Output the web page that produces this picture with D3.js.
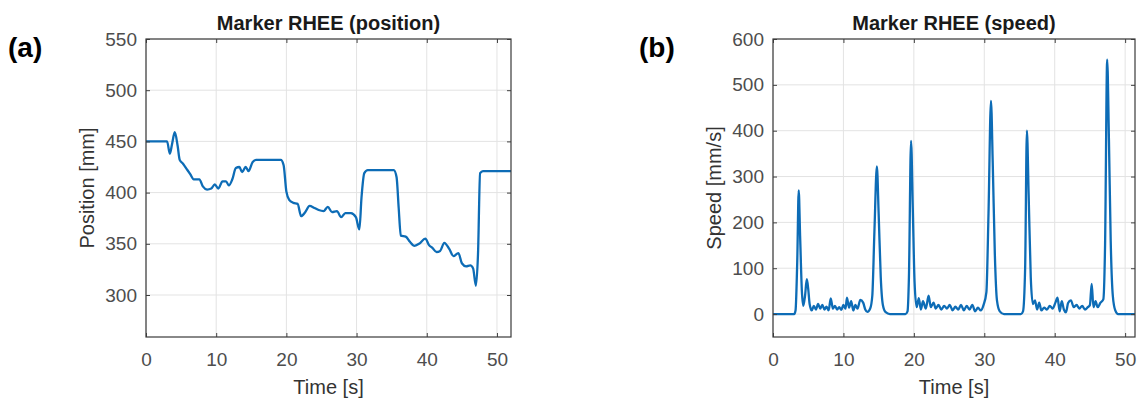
<!DOCTYPE html>
<html>
<head>
<meta charset="utf-8">
<script src="https://cdn.jsdelivr.net/npm/d3@7"></script>
<style>
  body { margin: 0; background: #fff; }
  svg { display: block; font-family: "Liberation Sans", Arial, sans-serif; }
  .tick text { fill: #4d4d4d; font-size: 19px; }
  .domain { display: none; }
</style>
</head>
<body>
<svg id="chart" width="1142" height="403"></svg>
<script>
// position of marker RHEE [mm] vs time [s]
var posTime = [0, 3.0, 3.4, 3.7, 4.1, 4.5, 4.8, 5.3, 5.8, 6.3, 6.8, 7.6, 8.1, 8.7, 9.3, 9.8,
  10.3, 10.9, 11.4, 11.8, 12.3, 12.8, 13.3, 13.7, 14.2, 14.6, 15.2, 15.7, 19.2, 19.6, 20.0,
  20.4, 21.0, 21.6, 22.1, 22.7, 23.3, 24.0, 24.6, 25.3, 25.9, 26.5, 27.2, 27.8, 28.4, 29.2,
  29.9, 30.4, 30.7, 31.1, 31.6, 35.3, 35.7, 36.0, 36.3, 37.0, 37.6, 38.2, 38.9, 39.8, 40.3,
  40.8, 41.4, 41.9, 42.5, 43.2, 43.8, 44.5, 45.0, 45.6, 46.2, 46.6, 47.0, 47.3, 47.6, 48.0, 52.0];
var posValue = [450, 450, 438, 447, 459, 446, 432, 428, 423, 418, 413, 413, 406, 403, 404, 408,
  404, 411, 411, 407, 413, 424, 425, 420, 425, 421, 430, 432, 432, 427, 401,
  393, 390, 389, 377, 381, 387, 385, 383, 382, 386, 381, 382, 376, 380, 380,
  376, 364, 395, 419, 422, 422, 415, 385, 358, 357, 352, 348, 350, 355, 349,
  346, 342, 343, 351, 345, 338, 341, 331, 328, 329, 326, 309, 340, 419, 421, 421];

// speed of marker RHEE [mm/s] vs time [s]
var speedTime = [0, 3.0, 3.2, 3.45, 3.65, 3.85, 4.1, 4.3, 4.55, 4.8, 5.0, 5.2, 5.5, 5.8, 6.1,
  6.4, 6.7, 7.0, 7.3, 7.6, 7.9, 8.2, 8.5, 8.8, 9.1, 9.4, 9.7, 10.0, 10.3, 10.5, 10.8, 11.1,
  11.4, 11.7, 12.0, 12.4, 12.8, 13.1, 13.4, 13.8, 14.1, 14.4, 14.75, 15.0, 15.3, 15.6, 16.0,
  16.6, 18.8, 19.1, 19.3, 19.6, 19.85, 20.1, 20.4, 20.7, 21.0, 21.3, 21.7, 22.1, 22.4, 22.8,
  23.1, 23.5, 23.9, 24.3, 24.7, 25.1, 25.5, 25.9, 26.3, 26.7, 27.1, 27.5, 27.9, 28.3, 28.7,
  29.1, 29.5, 29.9, 30.3, 30.6, 30.95, 31.2, 31.5, 31.8, 32.2, 32.8, 35.2, 35.5, 35.8, 36.05,
  36.3, 36.6, 36.9, 37.2, 37.5, 37.8, 38.1, 38.5, 38.9, 39.3, 39.7, 40.1, 40.4, 40.7, 41.0,
  41.3, 41.6, 41.9, 42.3, 42.7, 43.1, 43.5, 43.9, 44.3, 44.7, 45.0, 45.25, 45.5, 45.8, 46.1,
  46.5, 46.9, 47.15, 47.45, 47.7, 47.95, 48.25, 48.6, 49.0, 51.4];
var speedValue = [0, 0, 8, 120, 270, 170, 50, 18, 40, 76, 55, 22, 8, 18, 10,
  22, 12, 20, 10, 16, 8, 34, 12, 18, 10, 15, 9, 20, 12, 36, 14, 28,
  8, 20, 12, 31, 25, 10, 5, 12, 40, 180, 322, 220, 80, 20, 4,
  0, 0, 6, 80, 378, 230, 70, 15, 35, 10, 28, 12, 40, 15, 25,
  12, 20, 10, 18, 12, 20, 8, 16, 10, 20, 8, 18, 10, 20, 6,
  14, 8, 20, 48, 220, 465, 330, 130, 30, 6, 0, 0, 6, 100, 400,
  260, 80, 22, 30, 10, 25, 8, 14, 10, 18, 12, 25, 36, 6, 28,
  10, 4, 24, 30, 15, 20, 12, 18, 10, 15, 20, 66, 15, 28, 15,
  25, 32, 150, 555, 380, 160, 40, 8, 0, 0];

// tick values
var timeTicks = [0, 10, 20, 30, 40, 50];
var posTicks = [300, 350, 400, 450, 500, 550];
var speedTicks = [0, 100, 200, 300, 400, 500, 600];

var svg = d3.select("#chart");
var lineColor = "#0d6cb6";

function drawPanel(p) {
  var w = p.right - p.left;
  var h = p.bottom - p.top;

  var xScale = d3.scaleLinear().domain(p.xDomain).range([0, w]);
  var yScale = d3.scaleLinear().domain(p.yDomain).range([h, 0]);

  var g = svg.append("g")
    .attr("transform", "translate(" + p.left + "," + p.top + ")");

  // grid
  g.append("g")
    .selectAll("line.vx")
    .data(p.xTicks)
    .enter()
    .append("line")
    .attr("x1", function(d) { return xScale(d); })
    .attr("x2", function(d) { return xScale(d); })
    .attr("y1", 0)
    .attr("y2", h)
    .attr("stroke", "#e3e3e3")
    .attr("stroke-width", 1);

  g.append("g")
    .selectAll("line.hy")
    .data(p.yTicks)
    .enter()
    .append("line")
    .attr("x1", 0)
    .attr("x2", w)
    .attr("y1", function(d) { return yScale(d); })
    .attr("y2", function(d) { return yScale(d); })
    .attr("stroke", "#e3e3e3")
    .attr("stroke-width", 1);

  // the data line
  var line = d3.line()
    .x(function(d) { return xScale(d[0]); })
    .y(function(d) { return yScale(d[1]); })
    .curve(d3.curveMonotoneX);

  var pts = p.xs.map(function(t, i) { return [t, p.ys[i]]; });

  g.append("path")
    .datum(pts)
    .attr("fill", "none")
    .attr("stroke", lineColor)
    .attr("stroke-width", 2.3)
    .attr("stroke-linejoin", "round")
    .attr("d", line);

  // axes, ticks pointing inward like matlab
  var tickCol = "#404040";
  var xAxis = d3.axisBottom(xScale).tickValues(p.xTicks).tickSize(-4).tickPadding(16);
  var yAxis = d3.axisLeft(yScale).tickValues(p.yTicks).tickSize(-4).tickPadding(9);

  g.append("g")
    .attr("transform", "translate(0," + h + ")")
    .call(xAxis)
    .call(function(a) { a.selectAll("line").attr("stroke", tickCol); });

  g.append("g")
    .call(yAxis)
    .call(function(a) { a.selectAll("line").attr("stroke", tickCol); });

  g.append("g")
    .call(d3.axisTop(xScale).tickValues(p.xTicks).tickSize(-4).tickFormat(""))
    .call(function(a) { a.selectAll("line").attr("stroke", tickCol); });

  g.append("g")
    .attr("transform", "translate(" + w + ",0)")
    .call(d3.axisRight(yScale).tickValues(p.yTicks).tickSize(-4).tickFormat(""))
    .call(function(a) { a.selectAll("line").attr("stroke", tickCol); });

  // box
  g.append("rect")
    .attr("x", 0)
    .attr("y", 0)
    .attr("width", w)
    .attr("height", h)
    .attr("fill", "none")
    .attr("stroke", "#3a3a3a")
    .attr("stroke-width", 1.2);

  // title
  svg.append("text")
    .attr("x", p.left + w / 2)
    .attr("y", 30)
    .attr("text-anchor", "middle")
    .attr("font-size", "20px")
    .attr("font-weight", "bold")
    .attr("fill", "#1a1a1a")
    .text(p.title);

  // axis labels
  svg.append("text")
    .attr("x", p.left + w / 2)
    .attr("y", 394)
    .attr("text-anchor", "middle")
    .attr("font-size", "20px")
    .attr("fill", "#333")
    .text("Time [s]");

  svg.append("text")
    .attr("transform", "translate(" + (p.left - 52) + "," + (p.top + h / 2) + ") rotate(-90)")
    .attr("text-anchor", "middle")
    .attr("font-size", "20px")
    .attr("fill", "#333")
    .text(p.yLabel);

  // panel letter
  svg.append("text")
    .attr("x", p.letterX)
    .attr("y", 57)
    .attr("font-size", "28px")
    .attr("font-weight", "bold")
    .attr("fill", "#000")
    .text(p.letter);
}

drawPanel({
  left: 146, right: 511, top: 39, bottom: 337,
  xDomain: [0, 52], yDomain: [259, 550],
  xTicks: timeTicks, yTicks: posTicks,
  xs: posTime, ys: posValue,
  title: "Marker RHEE (position)",
  yLabel: "Position [mm]",
  letter: "(a)", letterX: 8
});

drawPanel({
  left: 773, right: 1135, top: 39, bottom: 337,
  xDomain: [0, 51.4], yDomain: [-50, 600],
  xTicks: timeTicks, yTicks: speedTicks,
  xs: speedTime, ys: speedValue,
  title: "Marker RHEE (speed)",
  yLabel: "Speed [mm/s]",
  letter: "(b)", letterX: 639
});
</script>
</body>
</html>
